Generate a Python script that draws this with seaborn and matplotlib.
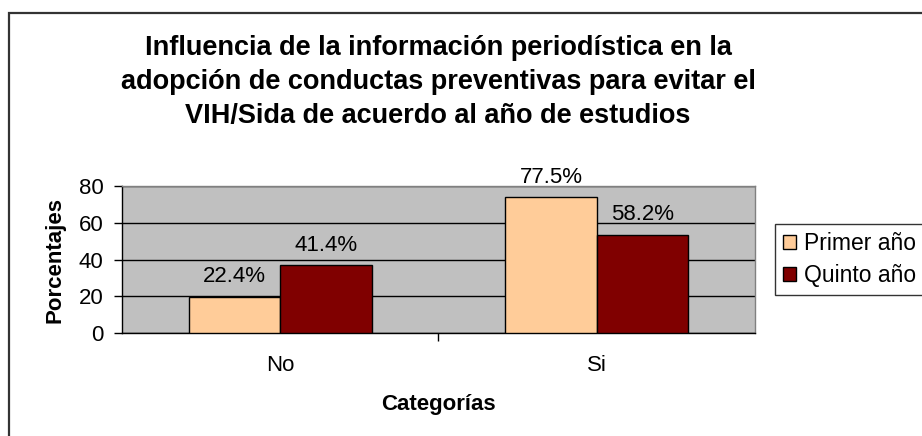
import pandas as pd
import seaborn as sns
import matplotlib.pyplot as plt
from matplotlib.patches import Rectangle

# Data
categorias = ['No', 'Si']
grupos = ['Primer año', 'Quinto año']
primer = [19.6, 73.8]
quinto = [36.8, 53.4]
etiquetas_primer = ['22.4%', '77.5%']
etiquetas_quinto = ['41.4%', '58.2%']
colores = ['#FFCC99', '#800000']

df = pd.DataFrame({
    'Categoria': categorias * 2,
    'Grupo': [grupos[0]] * 2 + [grupos[1]] * 2,
    'Valor': primer + quinto,
})

sns.set_style('white')
plt.rcParams['font.family'] = ['Liberation Sans', 'DejaVu Sans']
plt.rcParams['text.color'] = 'black'
plt.rcParams['axes.labelcolor'] = 'black'
plt.rcParams['xtick.color'] = 'black'
plt.rcParams['ytick.color'] = 'black'

fs = 16

fig = plt.figure(figsize=(9.22, 4.36), dpi=100)
ax = fig.add_axes([121.7 / 922, 1 - 333 / 436, (755 - 121.7) / 922, (333 - 186) / 436])

sns.barplot(data=df, x='Categoria', y='Valor', hue='Grupo', order=categorias,
            hue_order=grupos, palette=colores, width=0.578, edgecolor='black',
            linewidth=1, saturation=1, ax=ax, legend=True, zorder=3)

# value labels
for cont, labs in zip(ax.containers, [etiquetas_primer, etiquetas_quinto]):
    ax.bar_label(cont, labels=labs, padding=7, fontsize=fs)

ax.set_facecolor('#C0C0C0')
ax.set_ylim(0, 80)
ax.set_xlim(-0.5, 1.5)
ax.set_yticks([0, 20, 40, 60, 80])
ax.yaxis.grid(True, color='black', linewidth=1, zorder=1)
ax.set_axisbelow(True)
ax.tick_params(axis='y', labelsize=fs, length=6, width=1, pad=7, direction='out', left=True)
ax.set_xticks([0.5], [''])
ax.set_xticks([0, 1], categorias, minor=True)
ax.tick_params(axis='x', which='major', length=6, width=1, direction='out', bottom=True)
ax.tick_params(axis='x', which='minor', length=0, labelsize=fs, pad=16)
for s in ['top', 'right']:
    ax.spines[s].set_color('#808080')
for s in ['left', 'bottom']:
    ax.spines[s].set_color('black')
for s in ax.spines.values():
    s.set_linewidth(1)

ax.set_xlabel('Categorías', fontsize=fs, fontweight='bold', labelpad=13)
ax.set_ylabel('Porcentajes', fontsize=fs, fontweight='bold', labelpad=10)

fig.text(438 / 922, 1 - 82 / 436,
         'Influencia de la información periodística en la\n'
         'adopción de conductas preventivas para evitar el\n'
         'VIH/Sida de acuerdo al año de estudios',
         ha='center', va='center', fontsize=19.5, fontweight='bold', linespacing=1.4,
         transform=fig.transFigure)

leg = ax.legend(loc='upper left', bbox_to_anchor=(775 / 922, 1 - 224 / 436),
                bbox_transform=fig.transFigure, frameon=True, fancybox=False,
                edgecolor='black', fontsize=16.5, handlelength=0.55, handleheight=0.55,
                handletextpad=0.35, borderpad=0.35, labelspacing=0.4, borderaxespad=0)
leg.get_frame().set_linewidth(1)

# outer chart frame
fig.patches.append(Rectangle((9 / 922, -0.1), 1.1, 1 - 13 / 436 + 0.1,
                             transform=fig.transFigure, fill=False,
                             edgecolor='#333333', linewidth=1.6))

fig.savefig('out.png', dpi=100)
